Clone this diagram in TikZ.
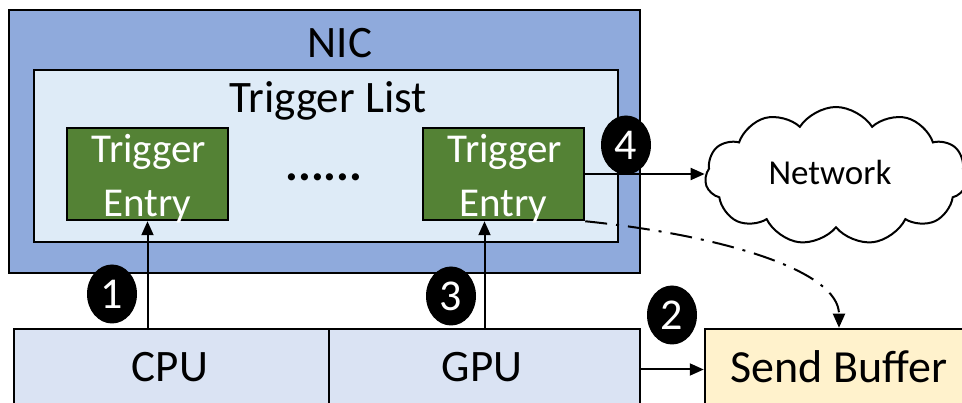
\documentclass[tikz,border=0pt]{standalone}
\usepackage{fontspec}
\setmainfont{Carlito}
\usetikzlibrary{shapes.geometric,shapes.symbols,arrows.meta}
\definecolor{nicblue}{HTML}{8FAADC}
\definecolor{listblue}{HTML}{DEEBF7}
\definecolor{entrygreen}{HTML}{548235}
\definecolor{procblue}{HTML}{DAE3F3}
\definecolor{bufyellow}{HTML}{FFF2CC}
\begin{document}
\begin{tikzpicture}[x=1pt,y=-1pt,
  box/.style={draw=black,line width=2.5pt,rectangle,inner sep=0pt},
  entrytxt/.style={font=\fontsize{41pt}{49pt}\selectfont,text=white,anchor=base,inner sep=0pt},
  lbl/.style={font=\fontsize{45pt}{54pt}\selectfont,anchor=base,inner sep=0pt},
  num/.style={ellipse,fill=black,draw=none,minimum width=50pt,minimum height=59pt,inner sep=0pt,text=white,font=\fontsize{44pt}{53pt}\selectfont},
  arr/.style={line width=2pt,-{Triangle[length=14pt,width=12pt]}},
  dashdot/.style={line width=2pt,dash pattern=on 22pt off 9pt on 3pt off 9pt,-{Triangle[length=14pt,width=12pt]}}
]
\clip (0,0) rectangle (962,403);
\fill[white] (0,0) rectangle (962,403);
% NIC
\node[box,fill=nicblue,minimum width=631pt,minimum height=263pt] (nic) at (324.5,141.5) {};
\node[lbl] (nict) at (340,58) {NIC};
% Trigger list
\node[box,fill=listblue,minimum width=584pt,minimum height=172pt] (tl) at (326,156) {};
\node[lbl] (tlt) at (328,113) {Trigger List};
% entries
\node[box,fill=entrygreen,minimum width=161pt,minimum height=92pt] (e1) at (147.5,174) {};
\node[entrytxt] (e1a) at (149,163) {Trigger};
\node[entrytxt] (e1b) at (147.5,217) {Entry};
\node[box,fill=entrygreen,minimum width=161pt,minimum height=92pt] (e2) at (503.5,174) {};
\node[entrytxt] (e2a) at (505,163) {Trigger};
\node[entrytxt] (e2b) at (503.5,217) {Entry};
\node[font=\fontsize{48pt}{56pt}\selectfont\bfseries,inner sep=0pt] (dots) at (324,177) {......};
% CPU / GPU
\node[box,fill=procblue,minimum width=315pt,minimum height=81pt] (cpu) at (171.5,369.5) {};
\node[lbl] (cput) at (170,382) {CPU};
\node[box,fill=procblue,minimum width=311pt,minimum height=81pt] (gpu) at (484.5,369.5) {};
\node[lbl] (gput) at (482,382) {GPU};
% Send buffer
\node[box,fill=bufyellow,minimum width=268pt,minimum height=81pt] (sb) at (839,369.5) {};
\node[lbl,font=\fontsize{46pt}{55pt}\selectfont] (sbt) at (839,383) {Send Buffer};
% Network cloud
\node[cloud,draw=black,line width=2pt,fill=white,cloud puffs=11,cloud puff arc=115,aspect=1.9,minimum width=262pt,minimum height=138pt,inner sep=0pt] (net) at (836,176) {};
\node[font=\fontsize{35pt}{42pt}\selectfont,anchor=base,inner sep=0pt] (nett) at (830,185) {Network};
% connectors
\draw[arr] (e1.south |- cpu.north) -- (e1.south);
\draw[arr] (gpu.north) -- (gpu.north |- e2.south);
\draw[arr] (e2.east) -- (e2.east -| net.west);
\draw[arr] (gpu.east) -- (sb.west);
\draw[dashdot] (e2.south east) .. controls (720,235) and (839,270) .. (sb.north);
% numbers
\node[num] (n1) at (112,294) {1};
\node[num] (n3) at (451,296) {3};
\node[num] (n4) at (626,145) {4};
\node[num] (n2) at (672,315) {2};
\end{tikzpicture}
\end{document}
